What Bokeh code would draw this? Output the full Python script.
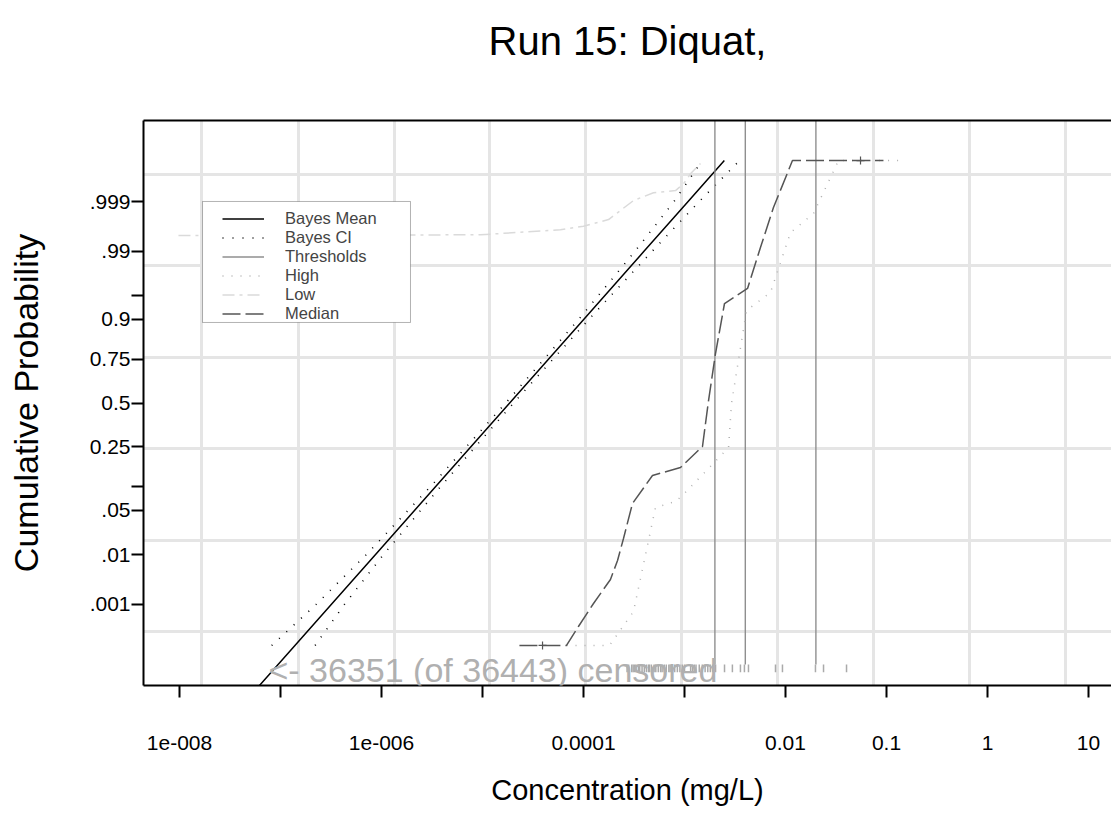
from statistics import NormalDist
import numpy as np
from bokeh.plotting import figure
from bokeh.models import FixedTicker, Label, Legend, LegendItem, BoxAnnotation, LinearAxis
from bokeh.embed import file_html
from bokeh.resources import INLINE

# ---------------- data (concentration in mg/L, cumulative probability) -------------
mean_conc = [3.56e-8, 1.39e-7, 3.18e-7, 8.69e-7, 3.44e-6, 1.858e-5, 1.004e-4, 3.97e-4, 1.086e-3, 2.48e-3]
mean_prob = [1e-6, 1e-4, 0.001, 0.01, 0.1, 0.5, 0.9, 0.99, 0.999, 0.9999]

ci_prob = [1e-4, 0.001, 0.01, 0.1, 0.5, 0.9, 0.99, 0.999, 0.9999]
ci_low_conc = [8.18e-8, 2.25e-7, 7.06e-7, 3.06e-6, 1.70e-5, 8.95e-5, 3.23e-4, 7.87e-4, 1.50e-3]
ci_high_conc = [2.20e-7, 4.29e-7, 1.045e-6, 3.85e-6, 2.03e-5, 1.127e-4, 4.78e-4, 1.40e-3, 3.51e-3]

thresholds = [0.002, 0.004, 0.02]

high_conc = [6.79e-5, 1.807e-4, 3.126e-4, 4.02e-4, 5.16e-4, 8.15e-4, 9.55e-4, 2.73e-3, 2.92e-3,
             4.11e-3, 7.10e-3, 1.122e-2, 1.892e-2, 3.35e-2, 0.1315]
high_prob = [0.0001, 0.0001, 0.00069, 0.0082, 0.0545, 0.0654, 0.0780, 0.2474, 0.4970,
             0.9220, 0.9550, 0.99554, 0.99817, 0.9999, 0.9999]

low_conc = [9.77e-9, 9.55e-6, 5.92e-5, 1.0e-4, 1.77e-4, 3.126e-4, 4.93e-4, 8.15e-4, 9.77e-4, 1.146e-3, 1.439e-3]
low_prob = [0.99490, 0.99506, 0.99605, 0.99666, 0.99755, 0.99905, 0.99937, 0.99944, 0.99961, 0.99978, 0.99988]

median_conc = [2.32e-5, 6.79e-5, 8.91e-5, 1.256e-4, 1.849e-4, 2.173e-4, 2.489e-4, 3.055e-4, 4.82e-4,
               9.12e-4, 1.507e-3, 1.730e-3, 2.028e-3, 2.489e-3, 4.21e-3, 5.65e-3, 7.60e-3, 1.172e-2, 9.33e-2]
median_prob = [0.0001, 0.0001, 0.000304, 0.00105, 0.0034, 0.00784, 0.01886, 0.0617, 0.1331,
               0.1613, 0.2524, 0.5152, 0.7761, 0.9365, 0.9605, 0.99146, 0.99864, 0.9999, 0.9999]

marker_conc = [3.93e-5, 0.0553]
marker_prob = [0.0001, 0.9999]

detects = [0.00027, 0.00028, 0.0003, 0.00031, 0.00032, 0.00033, 0.00035, 0.00036, 0.00038, 0.0004,
           0.00042, 0.00044, 0.00045, 0.00047, 0.0005, 0.00052, 0.00055, 0.00058, 0.0006, 0.00063,
           0.00066, 0.0007, 0.00072, 0.00075, 0.0008, 0.00085, 0.0009, 0.00095, 0.001, 0.00115,
           0.0012, 0.00125, 0.0013, 0.0014, 0.0015, 0.0016, 0.0017, 0.0018, 0.0019, 0.00203,
           0.00249, 0.00298, 0.00358, 0.00392, 0.0043, 0.00796, 0.00933, 0.0198, 0.0238, 0.0402]

n_censored = 36351
n_total = 36443

x_tick_vals = [-8, -7, -6, -5, -4, -3, -2, -1, 0, 1]
x_tick_text = ["1e-008", "", "1e-006", "", "0.0001", "", "0.01", "0.1", "1", "10"]
y_tick_probs = [0.001, 0.01, 0.05, 0.1, 0.25, 0.5, 0.75, 0.9, 0.95, 0.99, 0.999]
y_tick_text = [".001", ".01", ".05", "", "0.25", "0.5", "0.75", "0.9", "", ".99", ".999"]

# grid positions (style)
grid_x = [-7.782, -6.822, -5.871, -4.931, -3.980, -3.030, -2.079, -1.129, -0.178, 0.772]
grid_y = [-3.51, -2.105, -0.702, 0.702, 2.105, 3.51]

# ---------------- transforms ----------------
nd = NormalDist()
def lx(c):
    return list(np.log10(np.asarray(c, dtype=float)))
def pz(pr):
    return [nd.inv_cdf(v) for v in pr]

FONT = "Liberation Sans"
YMIN, YMAX = -4.333, 4.333

p = figure(width=1111, height=828, x_range=(-8.3564, 1.2277), y_range=(YMIN, YMAX),
           output_backend="svg", toolbar_location=None,
           min_border_left=143, min_border_right=0, min_border_top=120, min_border_bottom=143)
p.outline_line_color = None
p.background_fill_color = "white"
p.border_fill_color = "white"

# grids
p.xgrid.ticker = FixedTicker(ticks=grid_x)
p.ygrid.ticker = FixedTicker(ticks=grid_y)
for g in (p.xgrid, p.ygrid):
    g.grid_line_color = "#e5e5e5"
    g.grid_line_width = 3

# axes
p.xaxis.ticker = FixedTicker(ticks=x_tick_vals)
p.xaxis.major_label_overrides = {v: t for v, t in zip(x_tick_vals, x_tick_text)}
yt = [round(v, 6) for v in pz(y_tick_probs)]
yt = [int(v) if v == int(v) else v for v in yt]
p.yaxis.ticker = FixedTicker(ticks=yt)
p.yaxis.major_label_overrides = {v: t for v, t in zip(yt, y_tick_text)}
for ax in (p.xaxis, p.yaxis):
    ax.axis_line_width = 2
    ax.axis_line_color = "black"
    ax.major_tick_line_width = 2
    ax.major_tick_line_color = "black"
    ax.major_tick_out = 12
    ax.major_tick_in = 0
    ax.minor_tick_line_color = None
    ax.major_label_text_font = FONT
    ax.major_label_text_font_size = "21px"
    ax.major_label_text_color = "black"
    ax.axis_label_text_font = FONT
    ax.axis_label_text_font_style = "normal"
    ax.axis_label_text_color = "black"
p.xaxis.axis_label = "Concentration (mg/L)"
p.xaxis.axis_label_text_font_size = "29px"
p.yaxis.axis_label = "Cumulative Probability"
p.yaxis.axis_label_text_font_size = "34px"
p.xaxis.major_label_standoff = 38
p.xaxis.axis_label_standoff = 21
p.yaxis.major_label_standoff = 1
p.yaxis.axis_label_standoff = 42
p.yaxis.major_label_orientation = "horizontal"

# top frame line carrying the chart title
top = LinearAxis(ticker=FixedTicker(ticks=[]), axis_line_width=2, axis_line_color="black",
                 major_tick_line_color=None, minor_tick_line_color=None,
                 major_label_standoff=0, major_tick_out=0, major_tick_in=0,
                 axis_label="Run 15: Diquat,", axis_label_standoff=58,
                 axis_label_text_font=FONT, axis_label_text_font_size="40px",
                 axis_label_text_font_style="normal", axis_label_text_color="black")
p.add_layout(top, "above")

# series
r_mean = p.line(lx(mean_conc), pz(mean_prob), line_color="black", line_width=1.5)
r_ci = p.line(lx(ci_low_conc), pz(ci_prob), line_color="black", line_width=1.6, line_dash="1 9")
p.line(lx(ci_high_conc), pz(ci_prob), line_color="black", line_width=1.6, line_dash="1 9")
tx = lx(thresholds)
r_thr = p.segment(x0=tx, y0=[-4.01] * len(tx), x1=tx, y1=[YMAX + 1] * len(tx),
                  line_color="#8f8f8f", line_width=1.4)
r_high = p.line(lx(high_conc), pz(high_prob), line_color="#b0b0b0", line_width=1.5, line_dash="1 8")
r_low = p.line(lx(low_conc), pz(low_prob), line_color="#dadada", line_width=1.5, line_dash="12 5 3 5")
r_med = p.line(lx(median_conc), pz(median_prob), line_color="#555555", line_width=1.5, line_dash="18 5")
p.scatter(lx(marker_conc), pz(marker_prob), marker="cross", size=8, line_color="#555555", line_width=1.2)

dx = lx(detects)
p.segment(x0=dx, y0=[-4.01] * len(dx), x1=dx, y1=[-4.13] * len(dx), line_color="#aaaaaa", line_width=1.5)

p.add_layout(Label(x=-7.119, y=-4.10, text=f"<- {n_censored} (of {n_total}) censored",
                   text_font=FONT, text_font_size="34px", text_color="#b0b0b0",
                   text_baseline="alphabetic", text_align="left"))

# legend box + legend
p.add_layout(BoxAnnotation(left=-7.772, right=-5.713, top=3.091, bottom=1.235,
                           fill_color="white", fill_alpha=1.0, line_color="black", line_width=1))
legend = Legend(items=[LegendItem(label="Bayes Mean", renderers=[r_mean]),
                       LegendItem(label="Bayes CI", renderers=[r_ci]),
                       LegendItem(label="Thresholds", renderers=[r_thr]),
                       LegendItem(label="High", renderers=[r_high]),
                       LegendItem(label="Low", renderers=[r_low]),
                       LegendItem(label="Median", renderers=[r_med])],
                location=(79, 362), padding=0, spacing=0, margin=0,
                glyph_width=42, glyph_height=19, label_height=19, label_standoff=21,
                label_text_font=FONT, label_text_font_size="16.5px",
                border_line_color=None, background_fill_alpha=0)
p.add_layout(legend, "center")

open("out.html", "w").write(file_html(p, INLINE))
